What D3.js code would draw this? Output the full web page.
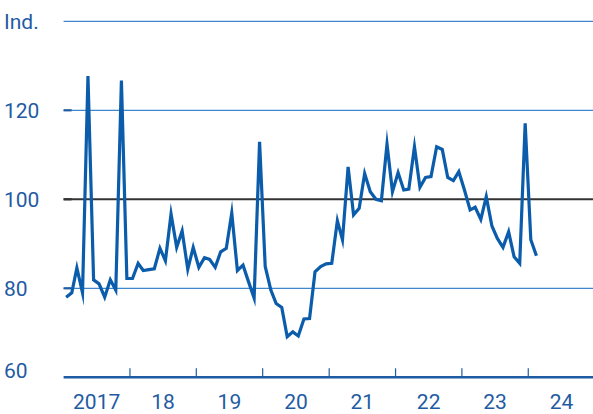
<!DOCTYPE html>
<meta charset="utf-8">
<script src="https://d3js.org/d3.v7.min.js"></script>
<style>
body { margin: 0; background: #fff; }
text { font-family: Roboto, "Liberation Sans", sans-serif; fill: #1f5ba3; }
</style>
<div id="chart"></div>
<script>

// monthly index values, Jan 2017 - Feb 2024
var startYear = 2017, startMonth = 0;
var values = [
  78.0, 79.0, 84.6, 79.0, 127.7, 81.9, 81.0, 78.0, 81.9, 79.6, 126.7, 82.2,   // 2017
  82.2, 85.6, 84.0, 84.2, 84.4, 89.0, 86.2, 96.7, 89.2, 92.9, 84.3, 89.2,    // 2018
  84.7, 86.9, 86.5, 84.7, 88.2, 89.0, 96.9, 84.0, 85.2, 81.5, 77.8, 112.9,   // 2019
  84.9, 79.6, 76.6, 75.7, 69.1, 70.2, 69.3, 73.1, 73.2, 83.7, 84.9, 85.5,    // 2020
  85.6, 95.2, 90.9, 107.3, 96.5, 98.0, 105.8, 101.7, 100.0, 99.7, 112.4, 101.7, // 2021
  106.0, 102.1, 102.3, 111.8, 102.7, 104.9, 105.1, 111.8, 111.2, 104.9, 104.2, 106.2, // 2022
  102.1, 97.6, 98.2, 95.5, 100.6, 94.0, 91.2, 89.2, 92.7, 87.1, 85.6, 117.1, // 2023
  90.9, 87.3                                                                  // 2024
];
var yTicks = [60, 80, 100, 120, 140];
var yLabels = ["60", "80", "100", "120", "Ind."];
var yearTicks = [2018, 2019, 2020, 2021, 2022, 2023, 2024];
var yearLabels = ["2017", "18", "19", "20", "21", "22", "23", "24"];

var data = values.map(function(v, i) {
  return { date: new Date(startYear, startMonth + i, 15), value: v };
});

var width = 593, height = 414;
var left = 63.6;

var svg = d3.select("#chart").append("svg")
  .attr("width", width)
  .attr("height", height);

var x = d3.scaleTime()
  .domain([new Date(2017, 0, 1), new Date(2025, 0, 1)])
  .range([left, 594.8]);

var y = d3.scaleLinear()
  .domain([60, 140])
  .range([377.3, 21.3]);

// gridlines
yTicks.forEach(function(t) {
  if (t === 60) return;
  svg.append("line")
    .attr("x1", left).attr("x2", width)
    .attr("y1", y(t)).attr("y2", y(t))
    .attr("stroke", t === 100 ? "#333" : "#3f86cc")
    .attr("stroke-width", t === 100 ? 2 : 1.2);
  if (t !== 140) {
    svg.append("line")
      .attr("x1", left).attr("x2", left + 8)
      .attr("y1", y(t)).attr("y2", y(t))
      .attr("stroke", t === 100 ? "#333" : "#1f5ba3")
      .attr("stroke-width", 2.2);
  }
});

// y labels
svg.append("g").selectAll("text")
  .data(yTicks)
  .enter().append("text")
    .attr("x", 4)
    .attr("y", function(d) { return d === 60 ? y(d) - 7 : y(d); })
    .attr("dy", "0.36em")
    .style("font-size", "21px")
    .text(function(d, i) { return yLabels[i]; });

// bottom axis line + year ticks
svg.append("line")
  .attr("x1", left).attr("x2", width)
  .attr("y1", y(60)).attr("y2", y(60))
  .attr("stroke", "#1f5ba3")
  .attr("stroke-width", 2.5);

svg.append("g").selectAll("line")
  .data(yearTicks)
  .enter().append("line")
    .attr("x1", function(d) { return x(new Date(d, 0, 1)); })
    .attr("x2", function(d) { return x(new Date(d, 0, 1)); })
    .attr("y1", y(60))
    .attr("y2", y(60) - 9)
    .attr("stroke", "#1f5ba3")
    .attr("stroke-width", 1.2);

svg.append("g").selectAll("text")
  .data(yearLabels)
  .enter().append("text")
    .attr("x", function(d, i) { return x(new Date(2017 + i, 6, 2)); })
    .attr("y", 409)
    .attr("text-anchor", "middle")
    .style("font-size", "21px")
    .text(function(d) { return d; });

// the line
var line = d3.line()
  .x(function(d) { return x(d.date); })
  .y(function(d) { return y(d.value); });

svg.append("path")
  .datum(data)
  .attr("fill", "none")
  .attr("stroke", "#0b5cab")
  .attr("stroke-width", 3.2)
  .attr("stroke-linejoin", "miter")
  .attr("stroke-miterlimit", 10)
  .attr("d", line);

</script>
